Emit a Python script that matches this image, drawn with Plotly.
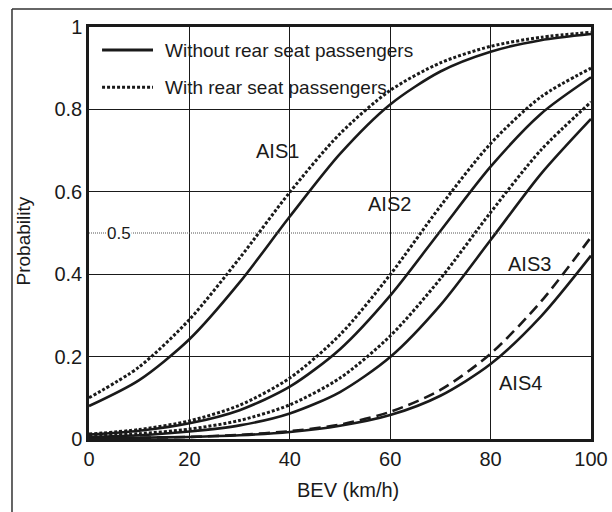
import plotly.graph_objects as go

bev = [0, 10, 20, 30, 40, 50, 60, 70, 80, 90, 100]

ais1_without = [0.080, 0.143, 0.242, 0.380, 0.540, 0.692, 0.812, 0.892, 0.940, 0.968, 0.983]
ais1_with    = [0.100, 0.175, 0.290, 0.439, 0.599, 0.741, 0.846, 0.913, 0.953, 0.975, 0.987]
ais2_without = [0.011, 0.020, 0.038, 0.070, 0.127, 0.218, 0.348, 0.505, 0.661, 0.789, 0.878]
ais2_with    = [0.012, 0.023, 0.044, 0.082, 0.148, 0.253, 0.399, 0.565, 0.717, 0.830, 0.900]
ais3_without = [0.005, 0.009, 0.018, 0.033, 0.062, 0.114, 0.199, 0.325, 0.483, 0.643, 0.777]
ais3_with    = [0.007, 0.013, 0.024, 0.045, 0.083, 0.148, 0.250, 0.389, 0.550, 0.701, 0.818]
ais4_without = [0.001, 0.003, 0.005, 0.009, 0.017, 0.032, 0.058, 0.105, 0.182, 0.297, 0.445]
ais4_with    = [0.001, 0.003, 0.005, 0.010, 0.019, 0.035, 0.066, 0.119, 0.207, 0.333, 0.490]

x_ticks = [0, 20, 40, 60, 80, 100]
y_ticks = [0, 0.2, 0.4, 0.6, 0.8, 1]
y_tick_text = ["0", "0.2", "0.4", "0.6", "0.8", "1"]

labels = ["AIS1", "AIS2", "AIS3", "AIS4"]
label_x = [37.6, 59.8, 87.7, 85.9]
label_y = [0.70, 0.57, 0.425, 0.136]

legend_names = ["Without rear seat passengers", "With rear seat passengers"]

FONT = "Liberation Sans, Arial, sans-serif"
INK = "#1a1a1a"

fig = go.Figure()

solid = dict(color=INK, width=2.6)
dotted = dict(color=INK, width=3, dash="3px,2px")
dashed = dict(color=INK, width=2.6, dash="11px,6px")

series = [
    (ais1_with, dotted), (ais1_without, solid),
    (ais2_with, dotted), (ais2_without, solid),
    (ais3_with, dotted), (ais3_without, solid),
    (ais4_with, dashed), (ais4_without, solid),
]
for ys, style in series:
    fig.add_trace(go.Scatter(x=bev, y=ys, mode="lines", line=dict(shape="spline", smoothing=0.8, **style),
                             showlegend=False, hoverinfo="skip"))

# 0.5 reference line
fig.add_trace(go.Scatter(x=[0, 100], y=[0.5, 0.5], mode="lines",
                         line=dict(color="#555555", width=1, dash="1px,1px"),
                         showlegend=False, hoverinfo="skip"))

annotations = []
for t, xx, yy in zip(labels, label_x, label_y):
    annotations.append(dict(x=xx, y=yy, xref="x", yref="y", text=t, showarrow=False,
                            font=dict(family=FONT, size=20, color=INK)))
annotations.append(dict(x=5.9, y=0.5, xref="x", yref="y", text="0.5", showarrow=False,
                        bgcolor="white", borderpad=0, font=dict(family=FONT, size=17, color=INK)))

# legend (manual)
leg_y = [0.944, 0.854]
shapes = []
for name, ly, st in zip(legend_names, leg_y, [solid, dotted]):
    shapes.append(dict(type="line", xref="paper", yref="paper", x0=0.026, x1=0.1275, y0=ly, y1=ly,
                       line=dict(color=INK, width=3, dash=st.get("dash", "solid"))))
    annotations.append(dict(x=0.147, y=ly, xref="paper", yref="paper", text=name, showarrow=False,
                            xanchor="left", yanchor="middle", font=dict(family=FONT, size=19, color=INK)))

# axis titles
annotations.append(dict(x=0.515, y=-0.124, xref="paper", yref="paper", text="BEV (km/h)", showarrow=False,
                        xanchor="center", yanchor="middle", font=dict(family=FONT, size=20, color=INK)))
annotations.append(dict(x=-0.131, y=0.48, xref="paper", yref="paper", text="Probability", showarrow=False,
                        textangle=-90, xanchor="center", yanchor="middle", font=dict(family=FONT, size=19, color=INK)))

# outer frame
shapes.append(dict(type="line", xref="paper", yref="paper", x0=-0.1534, x1=-0.1534, y0=1.0437, y1=-0.2,
                   line=dict(color="#333333", width=1.5)))
shapes.append(dict(type="line", xref="paper", yref="paper", x0=-0.1534, x1=1.06, y0=1.0437, y1=1.0437,
                   line=dict(color="#333333", width=1.5)))

fig.update_layout(
    width=612, height=512,
    margin=dict(l=89, r=21, t=27, b=73, autoexpand=False),
    paper_bgcolor="white", plot_bgcolor="white",
    font=dict(family=FONT, color=INK),
    annotations=annotations, shapes=shapes,
    showlegend=False,
)
fig.update_xaxes(range=[0, 100], tickvals=x_ticks, showgrid=True, gridcolor=INK, gridwidth=1.3,
                 showline=True, linecolor=INK, linewidth=2.5, mirror=True, zeroline=False,
                 ticks="", tickfont=dict(family=FONT, size=20, color=INK))
fig.update_yaxes(range=[0, 1], tickvals=y_ticks, ticktext=y_tick_text, showgrid=True, gridcolor=INK, gridwidth=1.3,
                 showline=True, linecolor=INK, linewidth=2.5, mirror=True, zeroline=False,
                 ticks="", tickfont=dict(family=FONT, size=20, color=INK))

# remove the page's default body margin so the figure sits at the window origin
fig.write_html("out.html",
               config={"displayModeBar": False},
               post_script="document.body.style.margin='0';document.body.style.overflow='hidden';")
